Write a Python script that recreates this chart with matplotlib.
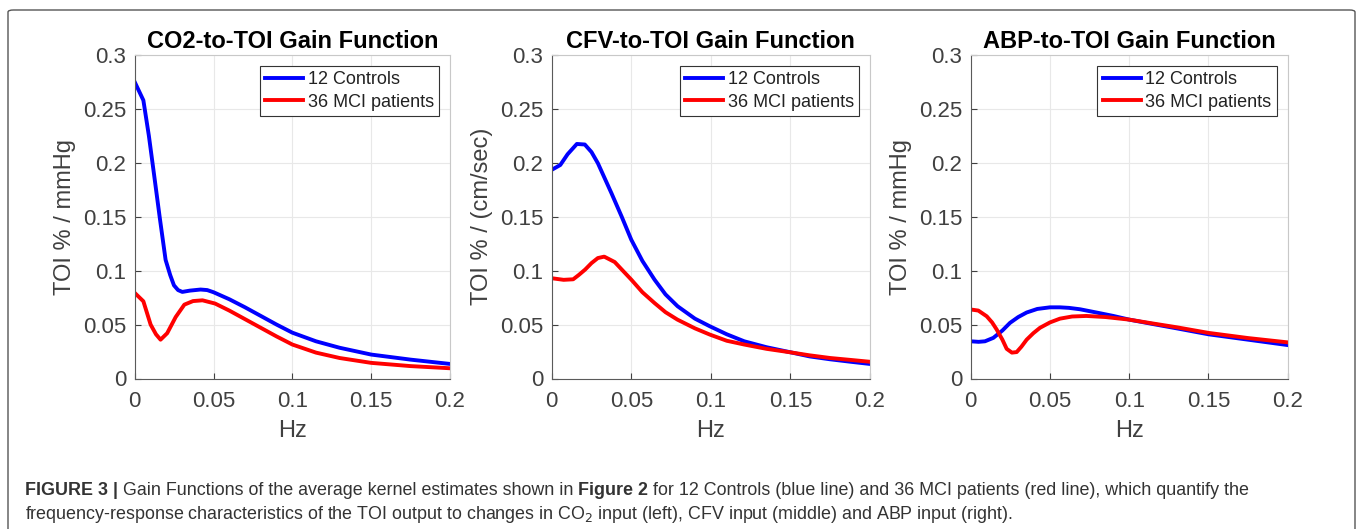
import numpy as np
import matplotlib
matplotlib.use("Agg")
import matplotlib.pyplot as plt
from matplotlib.patches import FancyBboxPatch

plt.rcParams['font.family'] = ['Liberation Sans', 'DejaVu Sans']

# ---- data (Hz, gain) ----
co2_hz_ctrl = [0, 0.0055, 0.009, 0.0122, 0.016, 0.0196, 0.0225, 0.0249, 0.0275, 0.0302,
               0.035, 0.0418, 0.046, 0.050, 0.060, 0.070, 0.080, 0.090, 0.100, 0.115,
               0.130, 0.150, 0.175, 0.200]
co2_ctrl = [0.275, 0.258, 0.225, 0.190, 0.148, 0.110, 0.096, 0.0864, 0.082, 0.0803,
            0.0815, 0.0825, 0.082, 0.080, 0.0735, 0.066, 0.058, 0.050, 0.0425, 0.0345,
            0.0285, 0.0222, 0.0175, 0.0135]
co2_hz_mci = [0, 0.0055, 0.0101, 0.0135, 0.0164, 0.0206, 0.026, 0.0315, 0.037, 0.043,
              0.051, 0.060, 0.070, 0.080, 0.090, 0.100, 0.115, 0.130, 0.150, 0.175, 0.200]
co2_mci = [0.0794, 0.0716, 0.050, 0.041, 0.036, 0.042, 0.057, 0.0685, 0.0718, 0.0725,
           0.0695, 0.063, 0.055, 0.047, 0.039, 0.0315, 0.024, 0.019, 0.0145, 0.0115, 0.0095]

cfv_hz_ctrl = [0, 0.0054, 0.010, 0.0158, 0.0208, 0.025, 0.029, 0.0375, 0.044, 0.050,
               0.057, 0.0646, 0.0715, 0.0791, 0.090, 0.0994, 0.110, 0.121, 0.135, 0.1494,
               0.162, 0.175, 0.188, 0.200]
cfv_ctrl = [0.1935, 0.198, 0.208, 0.2175, 0.217, 0.210, 0.1997, 0.172, 0.150, 0.1287,
            0.109, 0.0917, 0.078, 0.067, 0.0555, 0.0484, 0.041, 0.0345, 0.029, 0.0245,
            0.0205, 0.0178, 0.0155, 0.0135]
cfv_hz_mci = [0, 0.0075, 0.0135, 0.017, 0.021, 0.025, 0.029, 0.033, 0.0396, 0.045,
              0.050, 0.057, 0.0646, 0.0715, 0.079, 0.090, 0.0994, 0.110, 0.121, 0.135,
              0.1494, 0.162, 0.175, 0.188, 0.200]
cfv_mci = [0.093, 0.0915, 0.092, 0.096, 0.101, 0.107, 0.1117, 0.113, 0.108, 0.0995,
           0.0917, 0.080, 0.070, 0.0615, 0.0546, 0.0465, 0.0407, 0.035, 0.0315, 0.0275,
           0.0244, 0.0215, 0.019, 0.0172, 0.0155]

abp_hz_ctrl = [0, 0.005, 0.009, 0.0143, 0.020, 0.0248, 0.030, 0.0353, 0.042, 0.050,
               0.0563, 0.062, 0.069, 0.080, 0.090, 0.100, 0.115, 0.130, 0.150, 0.175, 0.200]
abp_ctrl = [0.0345, 0.034, 0.0345, 0.0377, 0.0445, 0.0516, 0.057, 0.0612, 0.0645, 0.066,
            0.066, 0.0655, 0.0642, 0.061, 0.058, 0.0546, 0.0505, 0.0465, 0.041, 0.036, 0.031]
abp_hz_mci = [0, 0.0048, 0.0101, 0.0135, 0.0164, 0.020, 0.0227, 0.026, 0.029, 0.032,
              0.0353, 0.0395, 0.0437, 0.050, 0.0563, 0.064, 0.073, 0.085, 0.100, 0.115,
              0.130, 0.150, 0.175, 0.200]
abp_mci = [0.064, 0.063, 0.0577, 0.052, 0.0454, 0.036, 0.0275, 0.024, 0.0245, 0.0295,
           0.036, 0.042, 0.047, 0.052, 0.0555, 0.0575, 0.058, 0.057, 0.0546, 0.051,
           0.0475, 0.0423, 0.0375, 0.0335]

titles = ["CO2-to-TOI Gain Function", "CFV-to-TOI Gain Function", "ABP-to-TOI Gain Function"]
ylabels = ["TOI % / mmHg", "TOI % / (cm/sec)", "TOI % / mmHg"]
legend_labels = ["12 Controls", "36 MCI patients"]
yticks = [0, 0.05, 0.1, 0.15, 0.2, 0.25, 0.3]
ytick_labels = ["0", "0.05", "0.1", "0.15", "0.2", "0.25", "0.3"]
xticks = [0, 0.05, 0.1, 0.15, 0.2]
xtick_labels = ["0", "0.05", "0.1", "0.15", "0.2"]

panels = [(co2_hz_ctrl, co2_ctrl, co2_hz_mci, co2_mci),
          (cfv_hz_ctrl, cfv_ctrl, cfv_hz_mci, cfv_mci),
          (abp_hz_ctrl, abp_ctrl, abp_hz_mci, abp_mci)]

W, H = 1358, 529
fig = plt.figure(figsize=(W / 100, H / 100), dpi=100)

# outer frame of the figure panel
frame = FancyBboxPatch((8 / W, -0.05), 1347 / W, 1 - 10 / H + 0.05,
                       boxstyle="round,pad=0,rounding_size=0.004",
                       transform=fig.transFigure, facecolor='none',
                       edgecolor='#555555', linewidth=1.0, zorder=-1)
fig.patches.append(frame)

lefts = [134.7, 551.7, 970.7]
widths = [315.3, 318.3, 317.0]
top_px, bot_px = 55, 378.5
tick_col = '#404040'

for i, (xc, yc, xm, ym) in enumerate(panels):
    ax = fig.add_axes([lefts[i] / W, 1 - bot_px / H, widths[i] / W, (bot_px - top_px) / H])
    ax.plot(xc, yc, color='#0000ff', linewidth=2.8, label=legend_labels[0])
    ax.plot(xm, ym, color='#ff0000', linewidth=2.8, label=legend_labels[1])
    ax.set_xlim(0, 0.2)
    ax.set_ylim(0, 0.3)
    ax.set_xticks(xticks)
    ax.set_xticklabels(xtick_labels)
    ax.set_yticks(yticks)
    ax.set_yticklabels(ytick_labels)
    ax.grid(True, color='#e8e8e8', linewidth=0.8)
    ax.set_axisbelow(True)
    ax.tick_params(labelsize=16, colors=tick_col, direction='in', length=4)
    ax.tick_params(axis='x', pad=9)
    ax.tick_params(axis='y', pad=6)
    for s in ['left', 'bottom']:
        ax.spines[s].set_color('#5a5a5a')
    for s in ['top', 'right']:
        ax.spines[s].set_color('#c8c8c8')
    ax.set_title(titles[i], fontsize=17, fontweight='bold', pad=5)
    ax.set_xlabel("Hz", fontsize=17, color=tick_col, labelpad=6)
    ax.set_ylabel(ylabels[i], fontsize=17, color=tick_col, labelpad=5)
    leg = ax.legend(loc='upper right', fontsize=13, frameon=True, fancybox=False,
                    edgecolor='#333333', framealpha=1, handlelength=2.1,
                    handletextpad=0.25, borderpad=0.3, labelspacing=0.3,
                    borderaxespad=0.6)
    leg.get_frame().set_linewidth(0.8)
    for t in leg.get_texts():
        t.set_color('#222222')

# caption, built from pieces so the bold parts sit inline
cap_col = '#333333'
cap_size = 12.9
renderer = fig.canvas.get_renderer()


def run(pieces, x0, y):
    x = x0
    for txt, weight in pieces:
        t = fig.text(x, y, txt, fontsize=cap_size, fontweight=weight,
                     color=cap_col, va='baseline', ha='left')
        bb = t.get_window_extent(renderer)
        x = bb.x1 / W


run([("FIGURE 3 |", 'bold'),
     (" Gain Functions of the average kernel estimates shown in ", 'normal'),
     ("Figure 2", 'bold'),
     (" for 12 Controls (blue line) and 36 MCI patients (red line), which quantify the", 'normal')],
    25 / W, 1 - 495 / H)
run([("frequency-response characteristics of the TOI output to changes in CO$_2$ input (left), "
      "CFV input (middle) and ABP input (right).", 'normal')],
    25 / W, 1 - 519 / H)

fig.savefig("out.png", dpi=100)
